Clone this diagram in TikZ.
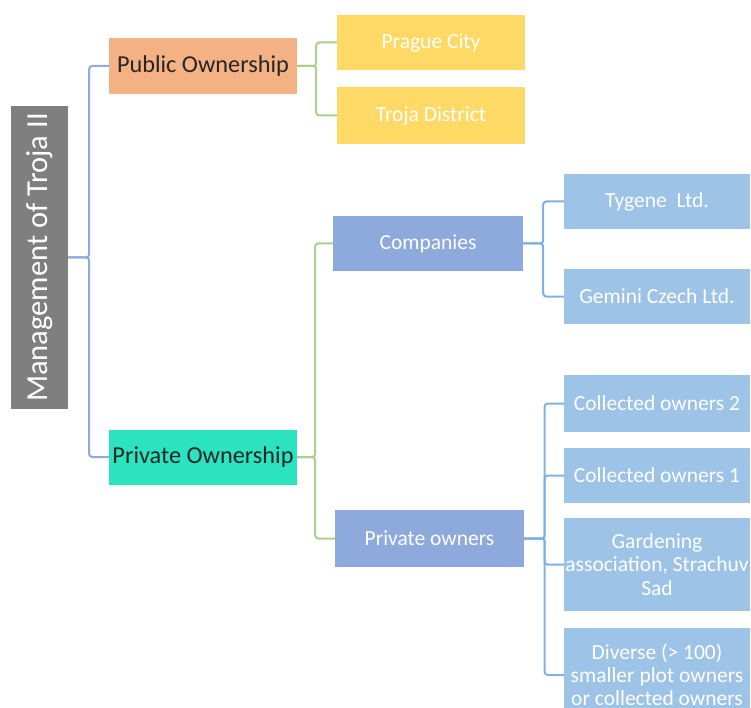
\documentclass[tikz,border=0pt]{standalone}
\usepackage{fontspec}
\setmainfont{Carlito}
\definecolor{rootgray}{HTML}{7F7F7F}
\definecolor{pubor}{HTML}{F4B183}
\definecolor{privteal}{HTML}{2BE3BF}
\definecolor{yel}{HTML}{FFD966}
\definecolor{midblue}{HTML}{8EA9DB}
\definecolor{litblue}{HTML}{9DC3E6}
\definecolor{lnroot}{HTML}{8FAADC}
\definecolor{lngreen}{HTML}{A9D18E}
\definecolor{lnblue}{HTML}{7FB2E0}
\definecolor{darktxt}{HTML}{262626}
\tikzset{
  box/.style={rectangle, inner sep=0pt, align=center, text=white},
  rootbox/.style={box, fill=rootgray, minimum width=57pt, minimum height=302pt, font=\fontsize{30.5}{34}\selectfont},
  lvlone/.style={box, minimum width=188pt, minimum height=56pt, text=darktxt, font=\fontsize{24.3}{27}\selectfont},
  lvltwo/.style={box, font=\fontsize{21.5}{24}\selectfont},
  leafbox/.style={box, fill=litblue, minimum width=186pt, font=\fontsize{21.5}{23.5}\selectfont},
  conn/.style={line width=2pt, rounded corners=3pt},
}
\begin{document}
\begin{tikzpicture}[x=1pt,y=-1pt]
\useasboundingbox (0,0) rectangle (751,708);
\fill[white] (0,0) rectangle (751,708);
\clip (0,0) rectangle (751,708);

\node[rootbox] (root) at (39.5,257.5) {\rotatebox{90}{Management of Troja II}};

\node[lvlone, fill=pubor] (pub) at (203,66) {Public Ownership};
\node[lvlone, fill=privteal, minimum height=55pt] (priv) at (203,457) {Private Ownership};

\node[lvltwo, fill=yel, minimum width=188pt, minimum height=55pt] (prague) at (431,42.5) {Prague City};
\node[lvltwo, fill=yel, minimum width=188pt, minimum height=57pt] (troja) at (431,115.5) {Troja District};

\node[lvltwo, fill=midblue, minimum width=190pt, minimum height=55pt] (comp) at (428,243.5) {Companies};
\node[lvltwo, fill=midblue, minimum width=189pt, minimum height=57pt] (pown) at (429.5,538.5) {Private owners};

\node[leafbox, minimum height=55pt] (tyg) at (657,201.5) {Tygene\ \ Ltd.};
\node[leafbox, minimum height=55pt] (gem) at (657,296.5) {Gemini Czech Ltd.};
\node[leafbox, minimum height=57pt] (co2) at (657,403.5) {Collected owners 2};
\node[leafbox, minimum height=55pt] (co1) at (657,475.5) {Collected owners 1};
\node[leafbox, minimum height=93pt] (gard) at (657,564.5) {Gardening\\association, Strachuv\\Sad};
\node[leafbox, minimum height=94pt, font=\fontsize{21.5}{23}\selectfont] (div) at (657,675) {Diverse (> 100)\\smaller plot owners\\or collected owners};

% root connectors
\draw[conn, lnroot] (root.east) -- ++(21,0) |- (pub.west);
\draw[conn, lnroot] (root.east) -- ++(21,0) |- (priv.west);

% public connectors
\draw[conn, lngreen] (pub.east) -- ++(19,0) |- (prague.west);
\draw[conn, lngreen] (pub.east) -- ++(19,0) |- (troja.west);

% private connectors
\draw[conn, lngreen] (priv.east) -- ++(18,0) |- (comp.west);
\draw[conn, lngreen] (priv.east) -- ++(18,0) |- (pown.west);

% companies connectors
\draw[conn, lnblue] (comp.east) -- ++(20,0) |- (tyg.west);
\draw[conn, lnblue] (comp.east) -- ++(20,0) |- (gem.west);

% private owners connectors
\draw[conn, lnblue] (pown.east) -- ++(20.5,0) |- (co2.west);
\draw[conn, lnblue] (pown.east) -- ++(20.5,0) |- (co1.west);
\draw[conn, lnblue] (pown.east) -- ++(20.5,0) |- (gard.west);
\draw[conn, lnblue] (pown.east) -- ++(20.5,0) |- (div.west);
\end{tikzpicture}
\end{document}
